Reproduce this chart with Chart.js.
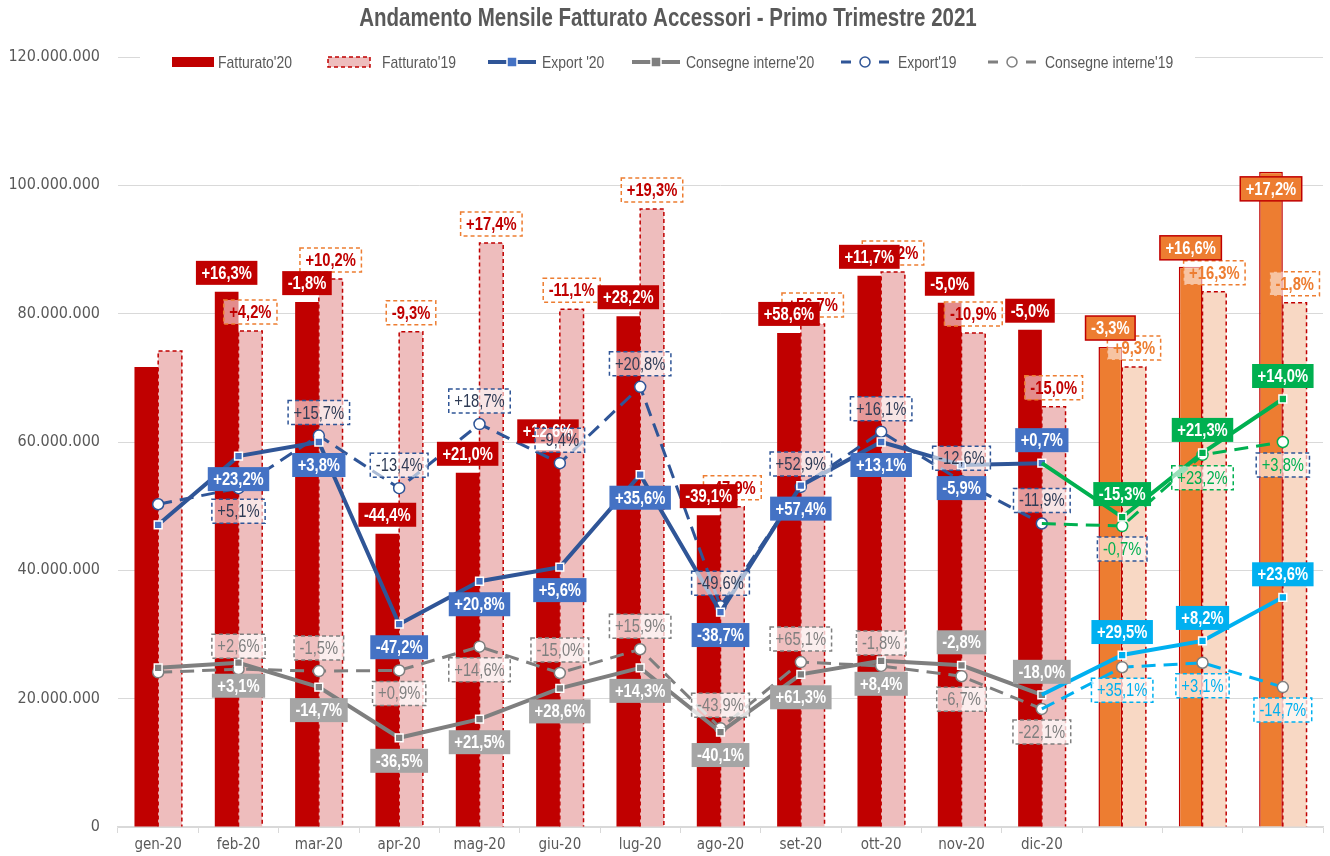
<!DOCTYPE html>
<html>
<head>
<meta charset="utf-8">
<script src="https://cdn.jsdelivr.net/npm/chart.js@4.4.0/dist/chart.umd.min.js"></script>
<style>
  body { margin: 0; background: #fff; }
  #contenitore { width: 1330px; height: 856px; }
</style>
</head>
<body>
<div id="contenitore"><canvas id="grafico" width="1330" height="856"></canvas></div>
<script>
// DATI
const mesi = ['gen-20', 'feb-20', 'mar-20', 'apr-20', 'mag-20', 'giu-20', 'lug-20', 'ago-20', 'set-20', 'ott-20', 'nov-20', 'dic-20', '', '', ''];

const fatturato20 = [71700000, 83400000, 81800000, 45700000, 55200000, 58700000, 79600000, 48600000, 77000000, 85900000, 81700000, 77500000, 74800000, 87300000, 102100000];
const fatturato19 = [74200000, 77300000, 85400000, 77200000, 91000000, 80700000, 96300000, 49900000, 78400000, 86500000, 77000000, 65500000, 71700000, 83400000, 81700000];

const export20 = [47100000, 57800000, 60000000, 31600000, 38300000, 40500000, 54900000, 33500000, 53200000, 60000000, 56400000, 56700000];
const export19 = [50300000, 52800000, 61000000, 52800000, 62800000, 56700000, 68600000, 34400000, 53000000, 61600000, 53900000, 47300000];
const consegne20 = [24800000, 25600000, 21800000, 13900000, 16800000, 21600000, 24800000, 14800000, 23800000, 25900000, 25200000, 20600000];
const consegne19 = [24100000, 24600000, 24300000, 24400000, 28100000, 24000000, 27700000, 15400000, 25700000, 25100000, 23500000, 18400000];

// primo trimestre 2021 (e stesso periodo 2020)
const export21 = [48300000, 58300000, 66700000];
const export21prec = [46900000, 58000000, 60000000];
const consegne21 = [26800000, 29000000, 35800000];
const consegne21prec = [24900000, 25600000, 21800000];

// VARIAZIONI PERCENTUALI (ETICHETTE)
const varFatturato20 = [null, '+16,3%', '-1,8%', '-44,4%', '+21,0%', '+12,6%', '+28,2%', '-39,1%', '+58,6%', '+11,7%', '-5,0%', '-5,0%', '-3,3%', '+16,6%', '+17,2%'];
const varFatturato19 = [null, '+4,2%', '+10,2%', '-9,3%', '+17,4%', '-11,1%', '+19,3%', '-47,9%', '+56,7%', '+10,2%', '-10,9%', '-15,0%', '+9,3%', '+16,3%', '-1,8%'];
const varExport20 = [null, '+23,2%', '+3,8%', '-47,2%', '+20,8%', '+5,6%', '+35,6%', '-38,7%', '+57,4%', '+13,1%', '-5,9%', '+0,7%'];
const varExport19 = [null, '+5,1%', '+15,7%', '-13,4%', '+18,7%', '-9,4%', '+20,8%', '-49,6%', '+52,9%', '+16,1%', '-12,6%', '-11,9%'];
const varConsegne20 = [null, '+3,1%', '-14,7%', '-36,5%', '+21,5%', '+28,6%', '+14,3%', '-40,1%', '+61,3%', '+8,4%', '-2,8%', '-18,0%'];
const varConsegne19 = [null, '+2,6%', '-1,5%', '+0,9%', '+14,6%', '-15,0%', '+15,9%', '-43,9%', '+65,1%', '-1,8%', '-6,7%', '-22,1%'];
const varExport21 = ['-15,3%', '+21,3%', '+14,0%'];
const varExport21prec = ['-0,7%', '+23,2%', '+3,8%'];
const varConsegne21 = ['+29,5%', '+8,2%', '+23,6%'];
const varConsegne21prec = ['+35,1%', '+3,1%', '-14,7%'];

const FONT = "'DejaVu Sans Condensed', 'Liberation Sans Narrow', sans-serif";
const FONT_STRETTO = "'Liberation Sans', Arial, sans-serif"; // schiacciato a mano per imitare Arial Narrow
const STRETTO = 0.82;
const ROSSO = '#C00000';
const ARANCIO = '#ED7D31';
const BLU = '#2F5597';
const BLU_CHIARO = '#4472C4';
const GRIGIO = '#7F7F7F';
const VERDE = '#00B050';
const CIANO = '#00B0F0';

// serie 2020 seguite da vuoti, serie 2021 agganciate all'ultimo punto di dicembre
const serie2020 = (valori) => [...valori, null, null, null];
const serie2021 = (dicembre, valori) => [...Array(11).fill(null), dicembre, ...valori];
const etich2021 = (valori) => [...Array(12).fill(null), ...valori];

// lato: -1 sopra il punto, 1 sotto
const sotto = 1, sopra = -1;

const stileBox = (fondo, testo, bordo, tratteggio, grassetto) => ({ fondo, testo, bordo, tratteggio, grassetto });

const datasets = [
  {
    type: 'line', label: "Export 21", data: serie2021(export20[11], export21),
    borderColor: VERDE, borderWidth: 4, pointStyle: 'rect',
    pointRadius: [...Array(12).fill(0), 5.5, 5.5, 5.5],
    pointBackgroundColor: VERDE, pointBorderColor: '#fff', pointBorderWidth: 1.5,
    etichette: etich2021(varExport21), lato: () => sopra,
    stile: () => stileBox(VERDE, '#fff', null, false, true)
  },
  {
    type: 'line', label: "Export '20", data: serie2020(export20),
    borderColor: BLU, borderWidth: 4, pointStyle: 'rect', pointRadius: 5.5,
    pointBackgroundColor: BLU_CHIARO, pointBorderColor: '#fff', pointBorderWidth: 1.5,
    etichette: varExport20, lato: (j) => j === 11 ? sopra : sotto,
    stile: () => stileBox(BLU_CHIARO, '#fff', null, false, true),
    legenda: { x: 488, tipo: 'linea', colore: BLU, marcatore: 'rect', riempimento: BLU_CHIARO }
  },
  {
    type: 'line', label: "Consegne 21", data: serie2021(consegne20[11], consegne21),
    borderColor: CIANO, borderWidth: 4, pointStyle: 'rect',
    pointRadius: [...Array(12).fill(0), 5.5, 5.5, 5.5],
    pointBackgroundColor: CIANO, pointBorderColor: '#fff', pointBorderWidth: 1.5,
    etichette: etich2021(varConsegne21), lato: () => sopra,
    stile: () => stileBox(CIANO, '#fff', null, false, true)
  },
  {
    type: 'line', label: "Consegne interne'20", data: serie2020(consegne20),
    borderColor: GRIGIO, borderWidth: 4, pointStyle: 'rect', pointRadius: 5.5,
    pointBackgroundColor: GRIGIO, pointBorderColor: '#fff', pointBorderWidth: 1.5,
    etichette: varConsegne20, lato: (j) => j >= 10 ? sopra : sotto,
    stile: () => stileBox('#A5A5A5', '#fff', null, false, true),
    legenda: { x: 632, tipo: 'linea', colore: GRIGIO, marcatore: 'rect', riempimento: GRIGIO }
  },
  {
    type: 'line', label: "Export 21 prec", data: serie2021(export19[11], export21prec),
    borderColor: VERDE, borderWidth: 3, borderDash: [14, 8], pointStyle: 'circle',
    pointRadius: [...Array(12).fill(0), 5.5, 5.5, 5.5],
    pointBackgroundColor: '#fff', pointBorderColor: VERDE, pointBorderWidth: 1.5,
    etichette: etich2021(varExport21prec), lato: () => sotto,
    stile: (j) => stileBox('rgba(255,255,255,0.6)', VERDE, j === 13 ? VERDE : BLU, true, false)
  },
  {
    type: 'line', label: "Export'19", data: serie2020(export19),
    borderColor: BLU, borderWidth: 3, borderDash: [14, 8], pointStyle: 'circle', pointRadius: 5.5,
    pointBackgroundColor: '#fff', pointBorderColor: BLU, pointBorderWidth: 1.5,
    etichette: varExport19, lato: (j) => j === 1 ? sotto : sopra,
    stile: () => stileBox('rgba(255,255,255,0.6)', '#2E3B55', BLU, true, false),
    legenda: { x: 841, tipo: 'tratteggio', colore: BLU, marcatore: 'circle', riempimento: '#fff' }
  },
  {
    type: 'line', label: "Consegne 21 prec", data: serie2021(consegne19[11], consegne21prec),
    borderColor: CIANO, borderWidth: 3, borderDash: [14, 8], pointStyle: 'circle',
    pointRadius: [...Array(12).fill(0), 5.5, 5.5, 5.5],
    pointBackgroundColor: '#fff', pointBorderColor: GRIGIO, pointBorderWidth: 1.5,
    etichette: etich2021(varConsegne21prec), lato: () => sotto,
    stile: () => stileBox('rgba(255,255,255,0.7)', CIANO, CIANO, true, false)
  },
  {
    type: 'line', label: "Consegne interne'19", data: serie2020(consegne19),
    borderColor: GRIGIO, borderWidth: 3, borderDash: [14, 8], pointStyle: 'circle', pointRadius: 5.5,
    pointBackgroundColor: '#fff', pointBorderColor: GRIGIO, pointBorderWidth: 1.5,
    etichette: varConsegne19, lato: (j) => [3, 4, 10, 11].includes(j) ? sotto : sopra,
    stile: () => stileBox('rgba(255,255,255,0.75)', GRIGIO, GRIGIO, true, false),
    legenda: { x: 988, tipo: 'tratteggio', colore: GRIGIO, marcatore: 'circle', riempimento: '#fff' }
  },
  {
    type: 'bar', label: "Fatturato'20", data: fatturato20,
    backgroundColor: fatturato20.map((v, j) => j < 12 ? ROSSO : ARANCIO),
    borderColor: ROSSO, borderWidth: fatturato20.map((v, j) => j < 12 ? 0 : 1.5),
    categoryPercentage: 0.59, barPercentage: 1,
    etichette: varFatturato20, lato: (j) => j === 14 ? 'dentro' : sopra,
    stile: (j) => j < 12 ? stileBox(ROSSO, '#fff', null, false, true) : stileBox(ARANCIO, '#fff', ROSSO, false, true),
    legenda: { x: 172, tipo: 'barra', colore: ROSSO }
  },
  {
    type: 'bar', label: "Fatturato'19", data: fatturato19,
    backgroundColor: fatturato19.map((v, j) => j < 12 ? '#EEBDBD' : '#F8D8C4'),
    borderWidth: 0, categoryPercentage: 0.59, barPercentage: 1,
    bordoTratteggiato: true,
    etichette: varFatturato19, lato: () => sopra,
    stile: (j) => stileBox('rgba(255,255,255,0.55)', j < 12 ? ROSSO : ARANCIO, ARANCIO, true, true),
    legenda: { x: 328, tipo: 'barraTratteggiata', colore: '#EEBDBD' }
  }
];

// formato numeri all'italiana: 120.000.000
const formatoIt = (v) => String(v).replace(/\B(?=(\d{3})+(?!\d))/g, '.');

// testo schiacciato orizzontalmente (tipo Arial Narrow)
const larghezzaStretta = (ctx, testo) => ctx.measureText(testo).width * STRETTO;
const scriviStretto = (ctx, testo, x, y, allineamento) => {
  ctx.save();
  ctx.translate(x, y);
  ctx.scale(STRETTO, 1);
  ctx.textAlign = allineamento;
  ctx.textBaseline = 'middle';
  ctx.fillText(testo, 0, 0);
  ctx.restore();
};

// PLUGIN: bordo tratteggiato sulle barre 2019
const pluginBordi = {
  id: 'bordi',
  afterDatasetDraw(chart, args) {
    const ds = chart.data.datasets[args.index];
    if (!ds.bordoTratteggiato) return;
    const ctx = chart.ctx;
    ctx.save();
    ctx.setLineDash([4, 3]);
    ctx.strokeStyle = ROSSO;
    ctx.lineWidth = 1.5;
    args.meta.data.forEach((el) => {
      const { x, y, base, width } = el.getProps(['x', 'y', 'base', 'width'], true);
      const sx = x - width / 2, dx = x + width / 2;
      ctx.beginPath();
      ctx.moveTo(sx, base);
      ctx.lineTo(sx, y);
      ctx.lineTo(dx, y);
      ctx.lineTo(dx, base);
      ctx.stroke();
    });
    ctx.restore();
  }
};

// PLUGIN: etichette con le variazioni percentuali
const disegnaBox = (ctx, testo, cx, cy, s) => {
  ctx.font = (s.grassetto ? 'bold ' : '') + '18px ' + FONT_STRETTO;
  const w = larghezzaStretta(ctx, testo) + 11;
  const h = 24;
  ctx.fillStyle = s.fondo;
  ctx.fillRect(cx - w / 2, cy - h / 2, w, h);
  if (s.bordo) {
    ctx.setLineDash(s.tratteggio ? [4, 3] : []);
    ctx.strokeStyle = s.bordo;
    ctx.lineWidth = 1.5;
    ctx.strokeRect(cx - w / 2, cy - h / 2, w, h);
    ctx.setLineDash([]);
  }
  ctx.fillStyle = s.testo;
  scriviStretto(ctx, testo, cx, cy + 1, 'center');
};

const pluginEtichette = {
  id: 'etichette',
  afterDatasetsDraw(chart) {
    const ctx = chart.ctx;
    ctx.save();
    for (let i = chart.data.datasets.length - 1; i >= 0; i--) {
      const ds = chart.data.datasets[i];
      const meta = chart.getDatasetMeta(i);
      ds.etichette.forEach((testo, j) => {
        const el = meta.data[j];
        if (!testo || !el || ds.data[j] === null) return;
        const lato = ds.lato(j);
        let cy;
        if (ds.type === 'bar') {
          cy = lato === 'dentro' ? el.y + 17 : el.y - 19;
        } else {
          cy = el.y + lato * 23;
        }
        disegnaBox(ctx, testo, el.x, cy, ds.stile(j));
      });
    }
    ctx.restore();
  }
};

// PLUGIN: titolo e legenda disegnati sopra l'area del grafico
const pluginIntestazione = {
  id: 'intestazione',
  afterDraw(chart) {
    const ctx = chart.ctx;
    ctx.save();
    ctx.fillStyle = '#595959';
    ctx.font = 'bold 25px ' + FONT_STRETTO;
    scriviStretto(ctx, 'Andamento Mensile Fatturato Accessori - Primo Trimestre 2021', 668, 19, 'center');

    const yL = 62;
    ctx.fillStyle = '#fff';
    ctx.fillRect(140, 50, 1055, 24);
    ctx.font = '17px ' + FONT_STRETTO;
    chart.data.datasets.forEach((ds) => {
      const l = ds.legenda;
      if (!l) return;
      let xt;
      if (l.tipo === 'barra' || l.tipo === 'barraTratteggiata') {
        ctx.fillStyle = l.colore;
        ctx.fillRect(l.x, yL - 5, 42, 10);
        if (l.tipo === 'barraTratteggiata') {
          ctx.setLineDash([4, 3]);
          ctx.strokeStyle = ROSSO;
          ctx.lineWidth = 1.5;
          ctx.strokeRect(l.x, yL - 5, 42, 10);
          ctx.setLineDash([]);
        }
        xt = l.x + (l.tipo === 'barra' ? 46 : 54);
      } else {
        ctx.strokeStyle = l.colore;
        ctx.lineWidth = l.tipo === 'linea' ? 4 : 3;
        ctx.setLineDash(l.tipo === 'linea' ? [] : [10, 9]);
        ctx.beginPath();
        ctx.moveTo(l.x, yL);
        ctx.lineTo(l.x + 48, yL);
        ctx.stroke();
        ctx.setLineDash([]);
        const mx = l.x + 24;
        ctx.fillStyle = l.riempimento;
        ctx.strokeStyle = l.marcatore === 'rect' ? '#fff' : l.colore;
        ctx.lineWidth = 1.5;
        ctx.beginPath();
        if (l.marcatore === 'rect') ctx.rect(mx - 5, yL - 5, 10, 10);
        else ctx.arc(mx, yL, 5, 0, Math.PI * 2);
        ctx.fill();
        ctx.stroke();
        xt = l.x + (l.tipo === 'linea' ? 54 : 57);
      }
      ctx.fillStyle = '#595959';
      scriviStretto(ctx, ds.label, xt, yL + 1, 'left');
    });
    ctx.restore();
  }
};

new Chart(document.getElementById('grafico'), {
  data: { labels: mesi, datasets },
  plugins: [pluginBordi, pluginEtichette, pluginIntestazione],
  options: {
    responsive: false,
    animation: false,
    devicePixelRatio: 1,
    layout: { padding: { top: 57, right: 7, bottom: 0, left: 0 } },
    plugins: { legend: { display: false }, tooltip: { enabled: false } },
    scales: {
      x: {
        offset: true,
        grid: { offset: true, drawOnChartArea: false, drawTicks: true, tickLength: 6, color: '#D9D9D9' },
        border: { color: '#D9D9D9', width: 1.5 },
        ticks: { color: '#595959', font: { family: FONT, size: 15 }, padding: 3, maxRotation: 0, autoSkip: false },
        afterFit(scale) { scale.height = 29; }
      },
      y: {
        min: 0, max: 120000000,
        grid: { color: '#D9D9D9', lineWidth: 1, drawTicks: false },
        border: { display: false },
        ticks: { stepSize: 20000000, color: '#595959', font: { family: FONT, size: 16 }, padding: 18, callback: (v) => formatoIt(v) },
        afterFit(scale) { scale.width = 118; }
      }
    }
  }
});
</script>
</body>
</html>
